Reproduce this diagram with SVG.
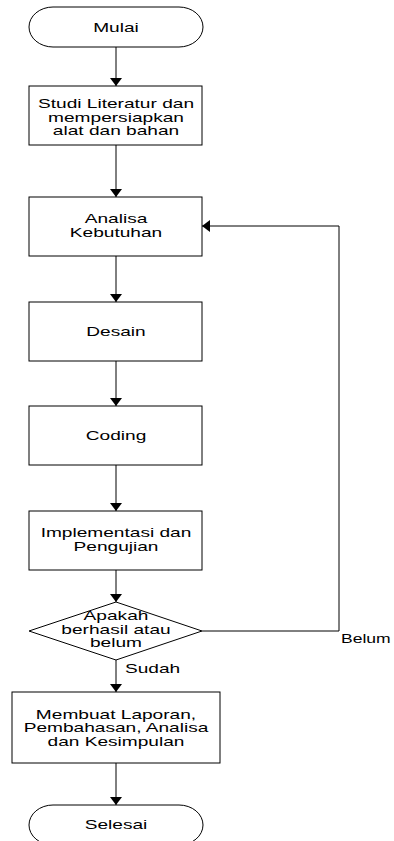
<svg xmlns="http://www.w3.org/2000/svg" width="394" height="841" viewBox="0 0 394 841">
<style>
.n{fill:#fff;stroke:#000;stroke-width:1}
.t{font-family:"Liberation Sans",Arial,sans-serif;font-size:13px;fill:#000}
.c{text-anchor:middle}
.e{fill:none;stroke:#000;stroke-width:1}
</style>
<defs>
<marker id="ah" viewBox="0 0 8 12" refX="8" refY="6" markerWidth="8" markerHeight="12" markerUnits="userSpaceOnUse" orient="auto">
<path d="M0,0 L8,6 L0,12 z" fill="#000"/>
</marker>
</defs>
<rect width="394" height="841" fill="#fff"/>
<g id="connectors">
<line class="e" x1="116" y1="47" x2="116" y2="86" marker-end="url(#ah)"/>
<line class="e" x1="116" y1="145" x2="116" y2="197" marker-end="url(#ah)"/>
<line class="e" x1="116" y1="256" x2="116" y2="302" marker-end="url(#ah)"/>
<line class="e" x1="116" y1="361" x2="116" y2="406" marker-end="url(#ah)"/>
<line class="e" x1="116" y1="465" x2="116" y2="511" marker-end="url(#ah)"/>
<line class="e" x1="116" y1="570" x2="116" y2="602" marker-end="url(#ah)"/>
<line class="e" x1="116" y1="660" x2="116" y2="692" marker-end="url(#ah)"/>
<line class="e" x1="116" y1="763" x2="116" y2="805" marker-end="url(#ah)"/>
<polyline class="e" points="202,631 339,631 339,226 202,226" marker-end="url(#ah)"/>
<text class="t" transform="translate(125,673) scale(1.47,1)">Sudah</text>
<text class="t" transform="translate(341,642.5) scale(1.35,1)">Belum</text>
</g>
<g id="mulai">
<rect class="n" x="29" y="7" width="174" height="40" rx="24" ry="20"/>
<text class="t c" transform="translate(116,31.5) scale(1.47,1)">Mulai</text>
</g>
<g id="studi">
<rect class="n" x="29" y="86" width="173" height="59"/>
<text class="t c" transform="translate(116,108) scale(1.47,1)">Studi Literatur dan</text>
<text class="t c" transform="translate(116,121.5) scale(1.47,1)">mempersiapkan</text>
<text class="t c" transform="translate(116,135) scale(1.47,1)">alat dan bahan</text>
</g>
<g id="analisa">
<rect class="n" x="29" y="197" width="173" height="59"/>
<text class="t c" transform="translate(116,223) scale(1.47,1)">Analisa</text>
<text class="t c" transform="translate(116,236.5) scale(1.47,1)">Kebutuhan</text>
</g>
<g id="desain">
<rect class="n" x="29" y="302" width="173" height="59"/>
<text class="t c" transform="translate(116,336) scale(1.47,1)">Desain</text>
</g>
<g id="coding">
<rect class="n" x="29" y="406" width="173" height="59"/>
<text class="t c" transform="translate(116,440) scale(1.47,1)">Coding</text>
</g>
<g id="implementasi">
<rect class="n" x="29" y="511" width="173" height="59"/>
<text class="t c" transform="translate(116,537) scale(1.47,1)">Implementasi dan</text>
<text class="t c" transform="translate(116,550.5) scale(1.47,1)">Pengujian</text>
</g>
<g id="keputusan">
<polygon class="n" points="116,602 202,631 116,660 29,631"/>
<text class="t c" transform="translate(116,620) scale(1.47,1)">Apakah</text>
<text class="t c" transform="translate(116,633.5) scale(1.47,1)">berhasil atau</text>
<text class="t c" transform="translate(116,647) scale(1.47,1)">belum</text>
</g>
<g id="laporan">
<rect class="n" x="12" y="692" width="208" height="71"/>
<text class="t c" transform="translate(116,718.5) scale(1.47,1)">Membuat Laporan,</text>
<text class="t c" transform="translate(116,732) scale(1.47,1)">Pembahasan, Analisa</text>
<text class="t c" transform="translate(116,745.5) scale(1.47,1)">dan Kesimpulan</text>
</g>
<g id="selesai">
<rect class="n" x="29" y="805" width="174" height="40" rx="24" ry="20"/>
<text class="t c" transform="translate(116,829) scale(1.47,1)">Selesai</text>
</g>
</svg>
